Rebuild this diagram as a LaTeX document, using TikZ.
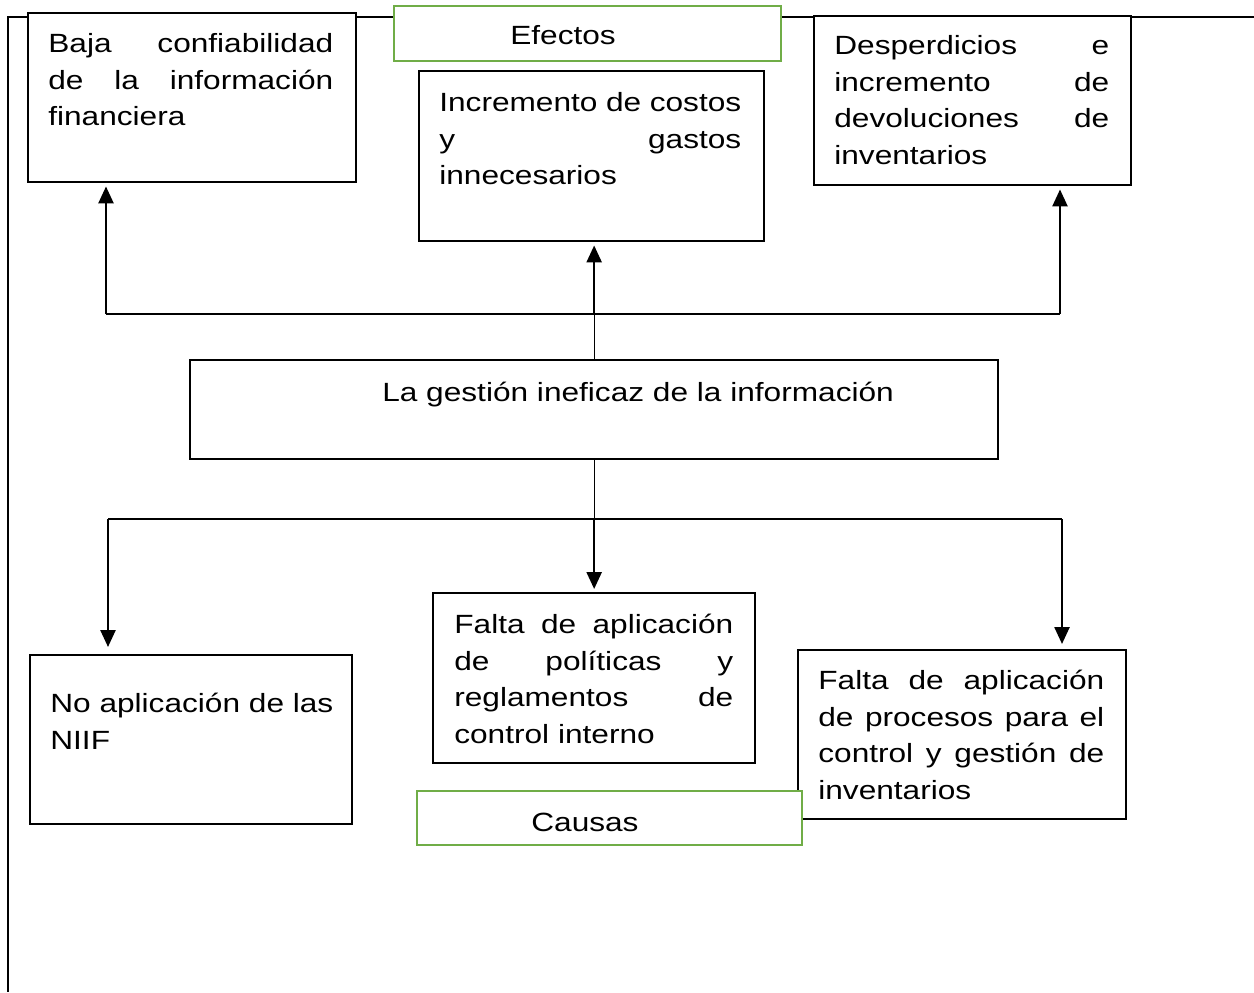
\documentclass[tikz,border=0pt]{standalone}
\usepackage{fontspec}
\setmainfont{Liberation Sans}[FakeStretch=1.2]
\usetikzlibrary{positioning}
\usetikzlibrary{arrows.meta}

\newcommand{\letra}{\fontsize{15}{21}\selectfont}
\definecolor{verde}{HTML}{70AD47}

\tikzset{
  caja/.style={draw, line width=1.4pt, fill=white, anchor=north west, inner sep=0pt},
  cajaverde/.style={draw=verde, line width=1.1pt, fill=white, anchor=north west, inner sep=0pt},
  texto/.style={inner sep=0pt, align=left, font=\letra},
  flecha/.style={line width=1.4pt, -{Triangle[length=0.34cm, width=0.3cm]}, shorten >=0.06cm},
  linea/.style={line width=0.8pt},
}

\begin{document}
\begin{tikzpicture}[x=0.02cm, y=-0.02cm]
    \useasboundingbox (0,0) rectangle (1254,992);

    % marco
    \draw[line width=1.2pt] (1254,17) -- (8,17) -- (8,992);

    % efectos
    \node(baja)[caja, minimum width=6.56cm, minimum height=3.38cm] at (27,12) {};
    \node(bajatxt)[texto, text width=5.70cm, below right=0.28cm and 0.42cm of baja.north west]
        {\strut Baja\hfill confiabilidad\\ de\hfill la\hfill información\\ financiera};

    \node(costos)[caja, minimum width=6.90cm, minimum height=3.40cm] at (418,70) {};
    \node(costostxt)[texto, text width=6.04cm, below right=0.30cm and 0.42cm of costos.north west]
        {\strut Incremento\hfill de\hfill costos\\ y\hfill gastos\\ innecesarios};

    \node(desperdicios)[caja, minimum width=6.34cm, minimum height=3.38cm] at (813,15) {};
    \node(desperdiciostxt)[texto, text width=5.50cm, below right=0.26cm and 0.42cm of desperdicios.north west]
        {\strut Desperdicios\hfill e\\ incremento\hfill de\\ devoluciones\hfill de\\ inventarios};

    \node(efectos)[cajaverde, minimum width=7.74cm, minimum height=1.10cm] at (393,5) {};
    \node(efectostxt)[texto, below right=0.26cm and 2.34cm of efectos.north west]{\strut Efectos};

    % problema
    \node(gestion)[caja, minimum width=16.16cm, minimum height=1.98cm] at (189,359) {};
    \node(gestiontxt)[texto, below right=0.32cm and 3.86cm of gestion.north west]
        {\strut La gestión ineficaz de la información};

    % causas
    \node(niif)[caja, minimum width=6.44cm, minimum height=3.38cm] at (29,654) {};
    \node(niiftxt)[texto, text width=5.80cm, below right=0.64cm and 0.42cm of niif.north west]
        {\strut No aplicación de las\\ NIIF};

    \node(politicas)[caja, minimum width=6.44cm, minimum height=3.40cm] at (432,592) {};
    \node(politicastxt)[texto, text width=5.58cm, below right=0.30cm and 0.44cm of politicas.north west]
        {\strut Falta\hfill de\hfill aplicación\\ de\hfill políticas\hfill y\\ reglamentos\hfill de\\ control interno};

    \node(procesos)[caja, minimum width=6.56cm, minimum height=3.38cm] at (797,649) {};
    \node(procesostxt)[texto, text width=5.72cm, below right=0.28cm and 0.42cm of procesos.north west]
        {\strut Falta\hfill de\hfill aplicación\\ de\hfill procesos\hfill para\hfill el\\ control\hfill y\hfill gestión\hfill de\\ inventarios};

    \node(causas)[cajaverde, minimum width=7.70cm, minimum height=1.08cm] at (416,790) {};
    \node(causastxt)[texto, below right=0.30cm and 2.30cm of causas.north west]{\strut Causas};

    % flechas hacia arriba
    \coordinate(arribaI) at (106,314);
    \coordinate(arribaD) at (1060,314);
    \coordinate(arribaC) at (gestion.north |- arribaI);
    \draw[linea] (arribaI) -- (arribaD);
    \draw[line width=0.6pt] (gestion.north) -- (arribaC);
    \draw[flecha] (arribaI) -- (arribaI |- baja.south);
    \draw[flecha] (arribaC) -- (arribaC |- costos.south);
    \draw[flecha] (arribaD) -- (arribaD |- desperdicios.south);

    % flechas hacia abajo
    \coordinate(abajoI) at (108,519);
    \coordinate(abajoD) at (1062,519);
    \coordinate(abajoC) at (gestion.south |- abajoI);
    \draw[linea] (abajoI) -- (abajoD);
    \draw[line width=0.6pt] (gestion.south) -- (abajoC);
    \draw[flecha, shorten >=0.14cm] (abajoI) -- (abajoI |- niif.north);
    \draw[flecha] (abajoC) -- (abajoC |- politicas.north);
    \draw[flecha, shorten >=0.1cm] (abajoD) -- (abajoD |- procesos.north);

\end{tikzpicture}
\end{document}
